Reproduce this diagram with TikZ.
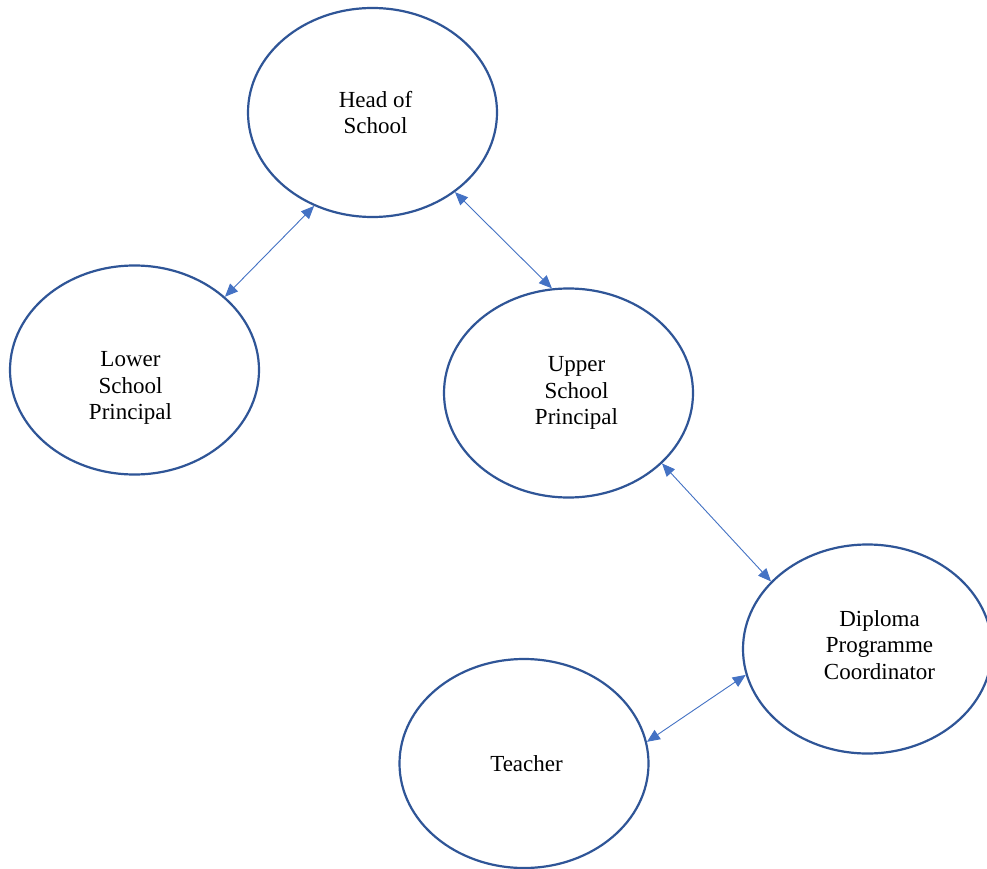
\documentclass[tikz,border=0pt]{standalone}
\usepackage{fontspec}
\setmainfont{Liberation Serif}
\usetikzlibrary{shapes.geometric,arrows.meta}
\definecolor{rimblue}{HTML}{2F5597}
\definecolor{linkblue}{HTML}{4472C4}
\tikzset{
  role/.style={ellipse, draw=rimblue, line width=2.2pt, minimum width=249pt,
    minimum height=209pt, inner sep=0pt},
  roletext/.style={align=center, inner sep=0pt,
    font=\fontsize{23}{26.5}\selectfont},
  link/.style={draw=linkblue, line width=0.9pt,
    {Triangle[length=13pt,width=11pt]}-{Triangle[length=13pt,width=11pt]},
    color=linkblue}
}
\begin{document}
\begin{tikzpicture}[x=1pt,y=-1pt]
\useasboundingbox (0,0) rectangle (987,869);
\clip (0,0) rectangle (987,869);
\fill[white] (0,0) rectangle (987,869);

% the five roles
\node[role] (head)    at (372.5,112.5) {};
\node[role] (lower)   at (134.5,370)   {};
\node[role] (upper)   at (568.5,393)   {};
\node[role] (diploma) at (867.5,649)   {};
\node[role] (teacher) at (524,763.5)   {};

% their titles
\node[roletext, xshift=3pt, yshift=0pt]    (head-t)    at (head)    {Head of\\School};
\node[roletext, xshift=-4pt, yshift=-18pt] (lower-t)   at (lower)   {Lower\\School\\Principal};
\node[roletext, xshift=8pt, yshift=0pt]    (upper-t)   at (upper)   {Upper\\School\\Principal};
\node[roletext, xshift=12pt, yshift=4pt]   (diploma-t) at (diploma) {Diploma\\Programme\\Coordinator};
\node[roletext, xshift=2.5pt]              (teacher-t) at (teacher) {Teacher};

% two-way reporting lines
\draw[link] (head.-122) -- (lower.39);
\draw[link] (head.-44) -- (upper.99);
\draw[link] (upper.-37) -- (diploma.145);
\draw[link] (diploma.192) -- (teacher.10);
\end{tikzpicture}
\end{document}
